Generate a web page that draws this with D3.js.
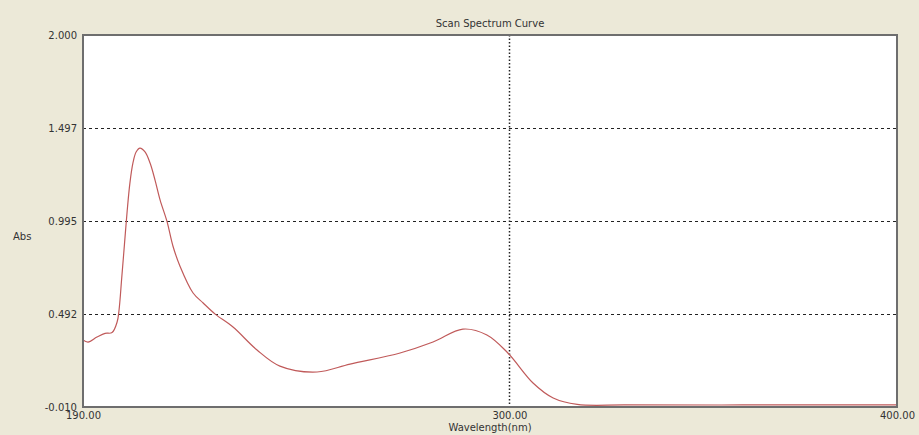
<!DOCTYPE html>
<html>
<head>
<meta charset="utf-8">
<script src="https://cdn.jsdelivr.net/npm/d3@7"></script>
<style>
  body { margin: 0; background: #ece9d8; }
  text { font-family: Tahoma, "DejaVu Sans", sans-serif; fill: #333; }
</style>
</head>
<body>
<div id="container"></div>
<script>
/* CONSTANTS AND GLOBALS */
const width = 919,
  height = 435,
  margin = { top: 35, bottom: 28, left: 83, right: 22 };

/* DATA */
const wavelength = [190.0, 191.3, 193.6, 195.7, 197.5, 198.8, 199.3, 200.0, 200.7, 201.4,
  202.1, 202.9, 203.7, 204.7, 206.0, 207.3, 208.6, 209.9,
  211.7, 213.2, 215.0, 218.4, 221.0, 224.1, 228.7, 234.9, 240.8, 250.4,
  258.9, 271.8, 280.3, 288.0, 294.2, 299.6, 306.1, 311.3, 317.5, 330.0,
  360.0, 400.0];
const absorbance = [0.352, 0.341, 0.368, 0.388, 0.392, 0.449, 0.514, 0.690, 0.870, 1.050,
  1.200, 1.310, 1.368, 1.389, 1.368, 1.308, 1.215, 1.108,
  0.990, 0.860, 0.752, 0.606, 0.552, 0.492, 0.422, 0.298, 0.211, 0.179,
  0.222, 0.282, 0.341, 0.411, 0.379, 0.282, 0.120, 0.039, 0.004, 0.001,
  0.001, 0.001];
const yTicks = [-0.010, 0.492, 0.995, 1.497, 2.000];
const xTicks = [190, 300, 400];

const data = wavelength.map((w, i) => ({ w: w, a: absorbance[i] }));

/* SCALES */
const xScale = d3.scaleLinear()
  .domain([190, 400])
  .range([margin.left, width - margin.right]);

const yScale = d3.scaleLinear()
  .domain([-0.010, 2.000])
  .range([height - margin.bottom, margin.top]);

/* HTML ELEMENTS */
const svg = d3.select("#container")
  .append("svg")
  .attr("width", width)
  .attr("height", height);

svg.append("rect")
  .attr("width", width)
  .attr("height", height)
  .attr("fill", "#ece9d8");

// plot area
svg.append("rect")
  .attr("x", margin.left)
  .attr("y", margin.top)
  .attr("width", width - margin.left - margin.right)
  .attr("height", height - margin.top - margin.bottom)
  .attr("fill", "#fff");

// horizontal dashed grid
svg.selectAll(".hgrid")
  .data(yTicks.slice(1, -1))
  .join("line")
  .attr("x1", margin.left)
  .attr("x2", width - margin.right)
  .attr("y1", d => Math.round(yScale(d)) + 0.5)
  .attr("y2", d => Math.round(yScale(d)) + 0.5)
  .attr("stroke", "#222")
  .attr("stroke-dasharray", "3,3");

// vertical dotted line at 300
svg.append("line")
  .attr("x1", Math.round(xScale(300)) + 0.5)
  .attr("x2", Math.round(xScale(300)) + 0.5)
  .attr("y1", margin.top)
  .attr("y2", height - margin.bottom)
  .attr("stroke", "#222")
  .attr("stroke-width", 1.5)
  .attr("stroke-dasharray", "1.5,2");

// curve
const line = d3.line()
  .x(d => xScale(d.w))
  .y(d => yScale(d.a))
  .curve(d3.curveCatmullRom.alpha(0.5));

svg.append("path")
  .datum(data)
  .attr("d", line)
  .attr("fill", "none")
  .attr("stroke", "#c05a5a")
  .attr("stroke-width", 1.2);

// frame
svg.append("rect")
  .attr("x", margin.left)
  .attr("y", margin.top)
  .attr("width", width - margin.left - margin.right)
  .attr("height", height - margin.top - margin.bottom)
  .attr("fill", "none")
  .attr("stroke", "#6e6e6e")
  .attr("stroke-width", 2);

// axes (labels only)
const yAxis = d3.axisLeft(yScale)
  .tickValues(yTicks)
  .tickFormat(d => d.toFixed(3))
  .tickSize(0)
  .tickPadding(6);

const xAxis = d3.axisBottom(xScale)
  .tickValues(xTicks)
  .tickFormat(d => d.toFixed(2))
  .tickSize(0)
  .tickPadding(5);

svg.append("g")
  .attr("transform", `translate(${margin.left},0)`)
  .call(yAxis)
  .call(g => g.select(".domain").remove())
  .selectAll("text")
  .style("font-size", "10px")
  .style("font-family", "Tahoma, 'DejaVu Sans', sans-serif")
  .attr("fill", "#333");

svg.append("g")
  .attr("transform", `translate(0,${height - margin.bottom})`)
  .call(xAxis)
  .call(g => g.select(".domain").remove())
  .selectAll("text")
  .style("font-size", "10px")
  .style("font-family", "Tahoma, 'DejaVu Sans', sans-serif")
  .attr("fill", "#333");

// titles
svg.append("text")
  .attr("x", (margin.left + width - margin.right) / 2)
  .attr("y", 27)
  .attr("text-anchor", "middle")
  .style("font-size", "10px")
  .text("Scan Spectrum Curve");

svg.append("text")
  .attr("x", (margin.left + width - margin.right) / 2)
  .attr("y", 431)
  .attr("text-anchor", "middle")
  .style("font-size", "10px")
  .text("Wavelength(nm)");

svg.append("text")
  .attr("x", 13)
  .attr("y", 240)
  .style("font-size", "10px")
  .text("Abs");
</script>
</body>
</html>
